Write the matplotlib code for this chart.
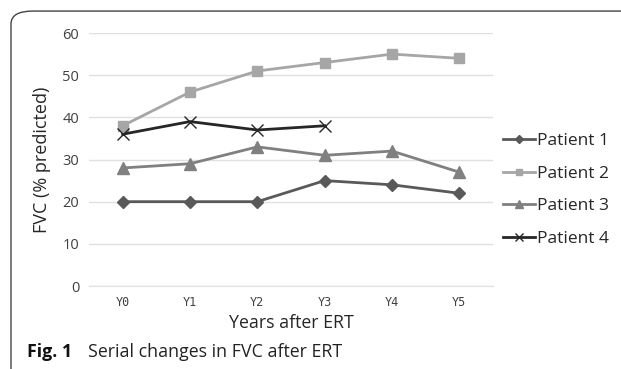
import matplotlib.pyplot as plt
from matplotlib.patches import FancyBboxPatch

years = ['Y0', 'Y1', 'Y2', 'Y3', 'Y4', 'Y5']
patient1 = [20, 20, 20, 25, 24, 22]
patient2 = [38, 46, 51, 53, 55, 54]
patient3 = [28, 29, 33, 31, 32, 27]
patient4 = [36, 39, 37, 38]

plt.rcParams['font.family'] = ['Open Sans', 'DejaVu Sans']

fig = plt.figure(figsize=(6.21, 3.69), dpi=100)
ax = fig.add_axes([0.1433, 0.2249, 0.6506, 0.6856])

x = list(range(len(years)))
ax.plot(x, patient1, color='#595959', marker='D', markersize=6, lw=2, label='Patient 1')
ax.plot(x, patient2, color='#a6a6a6', marker='s', markersize=7, lw=2, label='Patient 2')
ax.plot(x, patient3, color='#808080', marker='^', markersize=8, lw=2, label='Patient 3')
ax.plot(x[:len(patient4)], patient4, color='#262626', marker='x', markersize=9,
        markeredgewidth=1.0, lw=2, label='Patient 4')

ax.set_xlim(-0.5, 5.5)
ax.set_ylim(0, 60)
ax.set_yticks(range(0, 61, 10))
ax.set_xticks(x)
ax.set_xticklabels(years, family='DejaVu Sans Mono', fontsize=8.5, color='#404040')
ax.tick_params(axis='y', labelsize=10.5, colors='#404040', length=0, pad=7)
ax.tick_params(axis='x', length=0, pad=7)
ax.grid(axis='y', color='#e0e0e0', lw=1)
ax.set_axisbelow(True)
for s in ['top', 'right', 'left']:
    ax.spines[s].set_visible(False)
ax.spines['bottom'].set_color('#e0e0e0')

ax.set_ylabel('FVC (% predicted)', fontsize=13, color='#262626', labelpad=8)
ax.set_xlabel('Years after ERT', fontsize=12.8, color='#262626', labelpad=4)

ax.legend(loc='center left', bbox_to_anchor=(503 / 621, 0.485),
          bbox_transform=fig.transFigure, frameon=False, markerscale=0.7,
          fontsize=12.5, handlelength=1.85, handletextpad=0.1, labelspacing=0.95,
          borderaxespad=0, borderpad=0, labelcolor='#262626')

fig.text(0.043, 0.033, 'Fig. 1', fontsize=12.8, fontweight='bold', color='#111111')
fig.text(0.142, 0.033, 'Serial changes in FVC after ERT', fontsize=12.8, color='#222222')

border = FancyBboxPatch((0.0177, -0.05), 1.1, 1.02, transform=fig.transFigure,
                        boxstyle='round,pad=0,rounding_size=0.035', fill=False,
                        edgecolor='#444444', lw=1.0)
fig.patches.append(border)

fig.savefig('out.png', dpi=100)
